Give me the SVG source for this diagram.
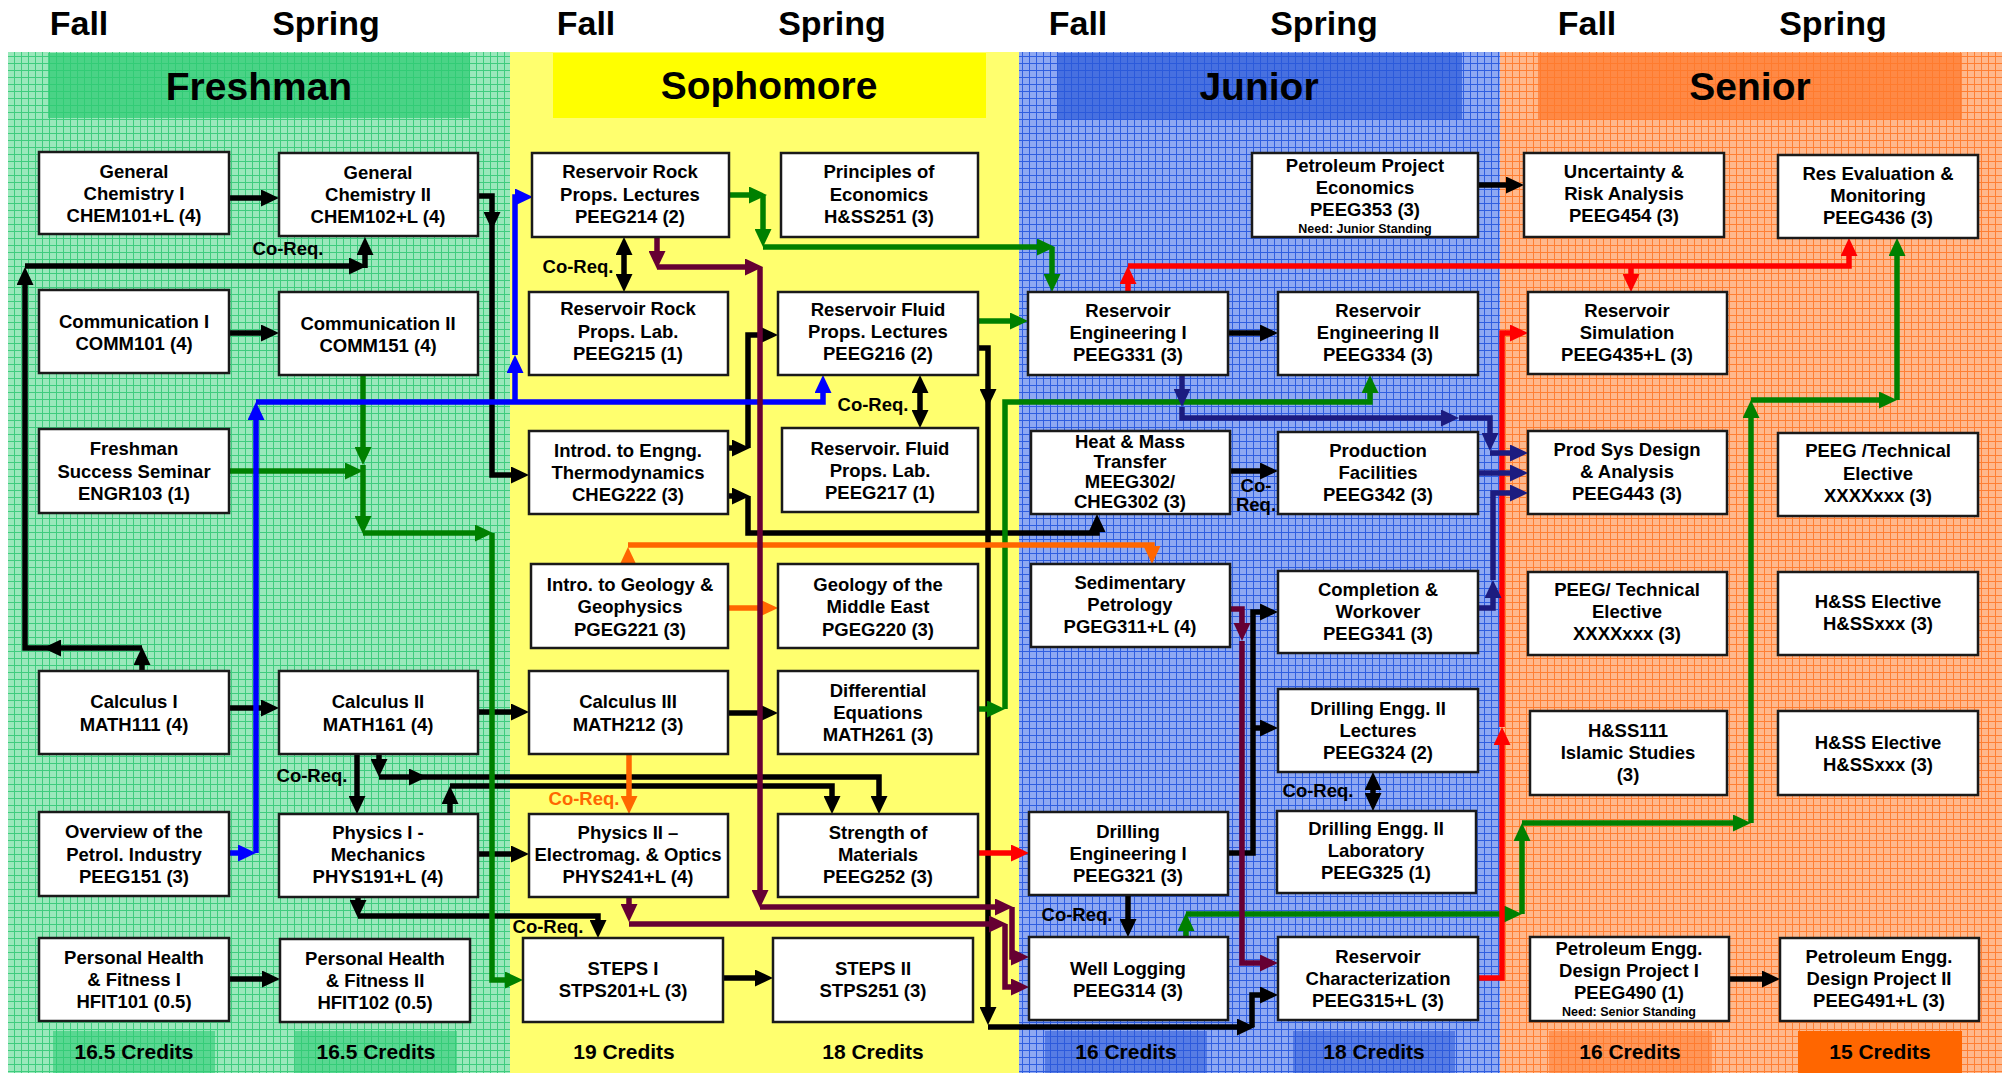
<svg xmlns="http://www.w3.org/2000/svg" width="2002" height="1073" viewBox="0 0 2002 1073">
<defs>
<pattern id="pg" width="7" height="7" patternUnits="userSpaceOnUse"><rect width="7" height="7" fill="#9ae8bb"/><path d="M0,0.5H7M0.5,0V7" stroke="#3fcc7e" stroke-width="1"/></pattern>
<pattern id="pb" width="7" height="7" patternUnits="userSpaceOnUse"><rect width="7" height="7" fill="#8ea8f2"/><path d="M0,0.5H7M0.5,0V7" stroke="#2f5ee0" stroke-width="1"/></pattern>
<pattern id="po" width="7" height="7" patternUnits="userSpaceOnUse"><rect width="7" height="7" fill="#ffb88c"/><path d="M0,0.5H7M0.5,0V7" stroke="#ff7f33" stroke-width="1"/></pattern>
<marker id="ak" viewBox="0 0 18 17" refX="5" refY="8.5" markerWidth="18" markerHeight="17" markerUnits="userSpaceOnUse" orient="auto"><path d="M0,0L18,8.5L0,17z" fill="#000"/></marker>
<marker id="ag" viewBox="0 0 18 17" refX="5" refY="8.5" markerWidth="18" markerHeight="17" markerUnits="userSpaceOnUse" orient="auto"><path d="M0,0L18,8.5L0,17z" fill="#008000"/></marker>
<marker id="ab" viewBox="0 0 18 17" refX="5" refY="8.5" markerWidth="18" markerHeight="17" markerUnits="userSpaceOnUse" orient="auto"><path d="M0,0L18,8.5L0,17z" fill="#0000ff"/></marker>
<marker id="ar" viewBox="0 0 18 17" refX="5" refY="8.5" markerWidth="18" markerHeight="17" markerUnits="userSpaceOnUse" orient="auto"><path d="M0,0L18,8.5L0,17z" fill="#ff0000"/></marker>
<marker id="ao" viewBox="0 0 18 17" refX="5" refY="8.5" markerWidth="18" markerHeight="17" markerUnits="userSpaceOnUse" orient="auto"><path d="M0,0L18,8.5L0,17z" fill="#ff6600"/></marker>
<marker id="am" viewBox="0 0 18 17" refX="5" refY="8.5" markerWidth="18" markerHeight="17" markerUnits="userSpaceOnUse" orient="auto"><path d="M0,0L18,8.5L0,17z" fill="#660033"/></marker>
<marker id="an" viewBox="0 0 18 17" refX="5" refY="8.5" markerWidth="18" markerHeight="17" markerUnits="userSpaceOnUse" orient="auto"><path d="M0,0L18,8.5L0,17z" fill="#1c1c80"/></marker>
<style>
.bx{fill:#fff;stroke:#1a1a1a;stroke-width:2.5}
.t{font-family:"Liberation Sans",Arial,sans-serif;font-weight:bold;font-size:18.5px;text-anchor:middle;fill:#000}
.s{font-size:12.5px}
.h{font-size:39px}
.sem{font-size:34px}
.cr{font-size:21px}
.c{fill:none;stroke-width:5.5;stroke-linejoin:miter}
.k{stroke:#000;marker-end:url(#ak)}
.g{stroke:#008000;marker-end:url(#ag)}
.b{stroke:#0000ff;marker-end:url(#ab)}
.r{stroke:#ff0000;marker-end:url(#ar)}
.o{stroke:#ff6600;marker-end:url(#ao)}
.m{stroke:#660033;marker-end:url(#am)}
.n{stroke:#1c1c80;marker-end:url(#an)}
</style>
</defs>
<rect width="2002" height="1073" fill="#fff"/>
<g id="panels">
<rect x="8" y="52" width="502" height="1021" fill="url(#pg)"/>
<rect x="510" y="52" width="509" height="1021" fill="#ffff6e"/>
<rect x="1019" y="52" width="481" height="1021" fill="url(#pb)"/>
<rect x="1500" y="52" width="502" height="1021" fill="url(#po)"/>
<rect x="48" y="53" width="422" height="65" fill="#2fcc74" opacity="0.75"/>
<rect x="553" y="53" width="433" height="65" fill="#ffff00"/>
<rect x="1057" y="53" width="405" height="67" fill="#2a58d8" opacity="0.7"/>
<rect x="1538" y="53" width="424" height="67" fill="#ff7a2e" opacity="0.75"/>
<rect x="53" y="1031" width="162" height="42" fill="#2fcc74" opacity="0.6"/>
<rect x="295" y="1031" width="162" height="42" fill="#2fcc74" opacity="0.6"/>
<rect x="1045" y="1031" width="162" height="42" fill="#2a58d8" opacity="0.55"/>
<rect x="1293" y="1031" width="162" height="42" fill="#2a58d8" opacity="0.55"/>
<rect x="1549" y="1031" width="163" height="42" fill="#ff7a2e" opacity="0.55"/>
<rect x="1798" y="1031" width="164" height="42" fill="#ff6600"/>
</g>
<g id="labels">
<text class="t sem" x="79" y="35">Fall</text>
<text class="t sem" x="326" y="35">Spring</text>
<text class="t sem" x="586" y="35">Fall</text>
<text class="t sem" x="832" y="35">Spring</text>
<text class="t sem" x="1078" y="35">Fall</text>
<text class="t sem" x="1324" y="35">Spring</text>
<text class="t sem" x="1587" y="35">Fall</text>
<text class="t sem" x="1833" y="35">Spring</text>
<text class="t h" x="259" y="100">Freshman</text>
<text class="t h" x="769" y="99">Sophomore</text>
<text class="t h" x="1259" y="100">Junior</text>
<text class="t h" x="1750" y="100">Senior</text>
<text class="t cr" x="134" y="1059">16.5 Credits</text>
<text class="t cr" x="376" y="1059">16.5 Credits</text>
<text class="t cr" x="624" y="1059">19 Credits</text>
<text class="t cr" x="873" y="1059">18 Credits</text>
<text class="t cr" x="1126" y="1059">16 Credits</text>
<text class="t cr" x="1374" y="1059">18 Credits</text>
<text class="t cr" x="1630" y="1059">16 Credits</text>
<text class="t cr" x="1880" y="1059">15 Credits</text>
</g>
<g id="connectors">
<path class="c k" d="M229,198H266"/>
<path class="c k" d="M229,333H266"/>
<path class="c k" d="M229,708H266"/>
<path class="c k" d="M229,979H267"/>
<path class="c k" d="M723,978H760"/>
<path class="c k" d="M478,712H516"/>
<path class="c k" d="M478,854H516"/>
<path class="c k" d="M728,713H765"/>
<path class="c k" d="M1228,333H1265"/>
<path class="c k" d="M1230,471H1265"/>
<path class="c k" d="M1478,185H1511"/>
<path class="c k" d="M1729,979H1767"/>
<path class="c k" d="M478,196H492V217"/>
<path class="c k" d="M492,217V475H516"/>
<path class="c k" d="M142,671V660"/>
<path class="c k" d="M142,648H56"/>
<path class="c k" d="M56,648H25V280"/>
<path class="c k" d="M25,266H354"/>
<path class="c k" d="M365,268V250"/>
<path class="c k" d="M357,754V801"/>
<path class="c k" d="M379,754V764"/>
<path class="c k" d="M379,777H414"/>
<path class="c k" d="M414,777H879V801"/>
<path class="c k" d="M450,814V799"/>
<path class="c k" d="M450,786H832V801"/>
<path class="c k" d="M358,897V905"/>
<path class="c k" d="M358,916H598V925"/>
<path class="c k" d="M728,448H737"/>
<path class="c k" d="M748,448V335H765"/>
<path class="c k" d="M728,496H737"/>
<path class="c k" d="M748,496V533H1097V527"/>
<path class="c k" d="M978,348H988V394"/>
<path class="c k" d="M988,394V1012"/>
<path class="c k" d="M988,1027H1242"/>
<path class="c k" d="M1252,1027V995H1265"/>
<path class="c k" d="M1228,853H1253V612H1265"/>
<path class="c k" d="M1253,728H1265"/>
<path class="c k" d="M1128,895V924"/>
<path class="c k" d="M624,265V250"/>
<path class="c k" d="M624,265V279"/>
<path class="c k" d="M920,401V388"/>
<path class="c k" d="M920,401V415"/>
<path class="c k" d="M1373,791V785"/>
<path class="c k" d="M1373,791V798"/>
<path class="c g" d="M729,195H754"/>
<path class="c g" d="M763,195V234"/>
<path class="c g" d="M763,247H1042"/>
<path class="c g" d="M1052,247V279"/>
<path class="c g" d="M978,321H1015"/>
<path class="c g" d="M978,709H992"/>
<path class="c g" d="M1005,709V402H1370V388"/>
<path class="c g" d="M363,375V452"/>
<path class="c g" d="M363,465V521"/>
<path class="c g" d="M363,533H480"/>
<path class="c g" d="M492,533V980H510"/>
<path class="c g" d="M229,471H350"/>
<path class="c g" d="M1186,937V926"/>
<path class="c g" d="M1186,914H1509"/>
<path class="c g" d="M1522,914V836"/>
<path class="c g" d="M1522,823H1738"/>
<path class="c g" d="M1751,823V413"/>
<path class="c g" d="M1751,400H1884"/>
<path class="c g" d="M1897,400V251"/>
<path class="c b" d="M229,853H243"/>
<path class="c b" d="M256,853V415"/>
<path class="c b" d="M256,402H823V388"/>
<path class="c b" d="M515,402V368"/>
<path class="c b" d="M515,355V197H520"/>
<path class="c r" d="M978,853H1016"/>
<path class="c r" d="M1128,292V279"/>
<path class="c r" d="M1128,266H1849V251"/>
<path class="c r" d="M1631,266V279"/>
<path class="c r" d="M1478,978H1502V740"/>
<path class="c r" d="M1502,727V333H1515"/>
<path class="c o" d="M628,564V560"/>
<path class="c o" d="M628,545H1152V551"/>
<path class="c o" d="M728,608H765"/>
<path class="c o" d="M629,754V801"/>
<path class="c m" d="M657,237V256"/>
<path class="c m" d="M657,267H750"/>
<path class="c m" d="M760,267V895"/>
<path class="c m" d="M760,907H1000"/>
<path class="c m" d="M1012,907V957H1016"/>
<path class="c m" d="M629,897V909"/>
<path class="c m" d="M629,924H994"/>
<path class="c m" d="M1005,924V987H1016"/>
<path class="c m" d="M1230,609H1242V628"/>
<path class="c m" d="M1242,641V963H1265"/>
<path class="c n" d="M1182,375V394"/>
<path class="c n" d="M1182,407V418H1446"/>
<path class="c n" d="M1459,418H1490V438"/>
<path class="c n" d="M1490,453H1515"/>
<path class="c n" d="M1478,473H1515"/>
<path class="c n" d="M1478,608H1493V593"/>
<path class="c n" d="M1493,580V493H1515"/>
<text class="t" x="288" y="255">Co-Req.</text>
<text class="t" x="312" y="782">Co-Req.</text>
<text class="t" x="548" y="933">Co-Req.</text>
<text class="t" x="578" y="273">Co-Req.</text>
<text class="t" x="584" y="805" fill="#ff6600" style="fill:#ff6600">Co-Req.</text>
<text class="t" x="873" y="411">Co-Req.</text>
<text class="t" x="1256" y="492">Co-</text>
<text class="t" x="1256" y="511">Req.</text>
<text class="t" x="1318" y="797">Co-Req.</text>
<text class="t" x="1077" y="921">Co-Req.</text>
</g>
<g id="CHEM101"><rect class="bx" x="39" y="152" width="190" height="82"/><text class="t"><tspan x="134" y="178">General</tspan><tspan x="134" y="200">Chemistry I</tspan><tspan x="134" y="222">CHEM101+L (4)</tspan></text></g>
<g id="CHEM102"><rect class="bx" x="279" y="153" width="199" height="83"/><text class="t"><tspan x="378" y="179">General</tspan><tspan x="378" y="201">Chemistry II</tspan><tspan x="378" y="223">CHEM102+L (4)</tspan></text></g>
<g id="COMM101"><rect class="bx" x="39" y="290" width="190" height="83"/><text class="t"><tspan x="134" y="328">Communication I</tspan><tspan x="134" y="350">COMM101 (4)</tspan></text></g>
<g id="COMM151"><rect class="bx" x="279" y="292" width="199" height="83"/><text class="t"><tspan x="378" y="330">Communication II</tspan><tspan x="378" y="352">COMM151 (4)</tspan></text></g>
<g id="ENGR103"><rect class="bx" x="39" y="429" width="190" height="84"/><text class="t"><tspan x="134" y="455">Freshman</tspan><tspan x="134" y="478">Success Seminar</tspan><tspan x="134" y="500">ENGR103 (1)</tspan></text></g>
<g id="MATH111"><rect class="bx" x="39" y="671" width="190" height="83"/><text class="t"><tspan x="134" y="708">Calculus I</tspan><tspan x="134" y="731">MATH111 (4)</tspan></text></g>
<g id="MATH161"><rect class="bx" x="279" y="671" width="199" height="83"/><text class="t"><tspan x="378" y="708">Calculus II</tspan><tspan x="378" y="731">MATH161 (4)</tspan></text></g>
<g id="PEEG151"><rect class="bx" x="39" y="812" width="190" height="84"/><text class="t"><tspan x="134" y="838">Overview of the</tspan><tspan x="134" y="861">Petrol.  Industry</tspan><tspan x="134" y="883">PEEG151 (3)</tspan></text></g>
<g id="PHYS191"><rect class="bx" x="279" y="814" width="199" height="83"/><text class="t"><tspan x="378" y="839">Physics I -</tspan><tspan x="378" y="861">Mechanics</tspan><tspan x="378" y="883">PHYS191+L (4)</tspan></text></g>
<g id="HFIT101"><rect class="bx" x="39" y="938" width="190" height="83"/><text class="t"><tspan x="134" y="964">Personal Health</tspan><tspan x="134" y="986">&amp; Fitness I</tspan><tspan x="134" y="1008">HFIT101 (0.5)</tspan></text></g>
<g id="HFIT102"><rect class="bx" x="280" y="939" width="190" height="83"/><text class="t"><tspan x="375" y="965">Personal Health</tspan><tspan x="375" y="987">&amp; Fitness  II</tspan><tspan x="375" y="1009">HFIT102 (0.5)</tspan></text></g>
<g id="PEEG214"><rect class="bx" x="532" y="153" width="197" height="84"/><text class="t"><tspan x="630" y="178">Reservoir Rock</tspan><tspan x="630" y="201">Props. Lectures</tspan><tspan x="630" y="223">PEEG214 (2)</tspan></text></g>
<g id="HSS251"><rect class="bx" x="781" y="153" width="197" height="84"/><text class="t"><tspan x="879" y="178">Principles of</tspan><tspan x="879" y="201">Economics</tspan><tspan x="879" y="223">H&amp;SS251 (3)</tspan></text></g>
<g id="PEEG215"><rect class="bx" x="529" y="292" width="199" height="83"/><text class="t"><tspan x="628" y="315">Reservoir Rock</tspan><tspan x="628" y="338">Props. Lab.</tspan><tspan x="628" y="360">PEEG215 (1)</tspan></text></g>
<g id="PEEG216"><rect class="bx" x="778" y="292" width="200" height="83"/><text class="t"><tspan x="878" y="316">Reservoir Fluid</tspan><tspan x="878" y="338">Props. Lectures</tspan><tspan x="878" y="360">PEEG216 (2)</tspan></text></g>
<g id="CHEG222"><rect class="bx" x="529" y="431" width="199" height="83"/><text class="t"><tspan x="628" y="457">Introd. to Engng.</tspan><tspan x="628" y="479">Thermodynamics</tspan><tspan x="628" y="501">CHEG222 (3)</tspan></text></g>
<g id="PEEG217"><rect class="bx" x="782" y="428" width="196" height="84"/><text class="t"><tspan x="880" y="455">Reservoir. Fluid</tspan><tspan x="880" y="477">Props. Lab.</tspan><tspan x="880" y="499">PEEG217 (1)</tspan></text></g>
<g id="PGEG221"><rect class="bx" x="531" y="564" width="197" height="84"/><text class="t"><tspan x="630" y="591">Intro. to Geology &amp;</tspan><tspan x="630" y="613">Geophysics</tspan><tspan x="630" y="636">PGEG221 (3)</tspan></text></g>
<g id="PGEG220"><rect class="bx" x="778" y="564" width="200" height="84"/><text class="t"><tspan x="878" y="591">Geology of the</tspan><tspan x="878" y="613">Middle East</tspan><tspan x="878" y="636">PGEG220 (3)</tspan></text></g>
<g id="MATH212"><rect class="bx" x="529" y="671" width="199" height="83"/><text class="t"><tspan x="628" y="708">Calculus III</tspan><tspan x="628" y="731">MATH212 (3)</tspan></text></g>
<g id="MATH261"><rect class="bx" x="778" y="671" width="200" height="83"/><text class="t"><tspan x="878" y="697">Differential</tspan><tspan x="878" y="719">Equations</tspan><tspan x="878" y="741">MATH261 (3)</tspan></text></g>
<g id="PHYS241"><rect class="bx" x="529" y="814" width="199" height="83"/><text class="t"><tspan x="628" y="839">Physics II –</tspan><tspan x="628" y="861">Electromag. &amp; Optics</tspan><tspan x="628" y="883">PHYS241+L (4)</tspan></text></g>
<g id="PEEG252"><rect class="bx" x="778" y="814" width="200" height="83"/><text class="t"><tspan x="878" y="839">Strength of</tspan><tspan x="878" y="861">Materials</tspan><tspan x="878" y="883">PEEG252 (3)</tspan></text></g>
<g id="STPS201"><rect class="bx" x="523" y="938" width="200" height="84"/><text class="t"><tspan x="623" y="975">STEPS I</tspan><tspan x="623" y="997">STPS201+L (3)</tspan></text></g>
<g id="STPS251"><rect class="bx" x="773" y="938" width="200" height="84"/><text class="t"><tspan x="873" y="975">STEPS II</tspan><tspan x="873" y="997">STPS251 (3)</tspan></text></g>
<g id="PEEG353"><rect class="bx" x="1252" y="153" width="226" height="84"/><text class="t"><tspan x="1365" y="172">Petroleum Project</tspan><tspan x="1365" y="194">Economics</tspan><tspan x="1365" y="216">PEEG353 (3)</tspan></text><text class="t s" x="1365" y="233">Need: Junior Standing</text></g>
<g id="PEEG331"><rect class="bx" x="1028" y="292" width="200" height="83"/><text class="t"><tspan x="1128" y="317">Reservoir</tspan><tspan x="1128" y="339">Engineering I</tspan><tspan x="1128" y="361">PEEG331 (3)</tspan></text></g>
<g id="PEEG334"><rect class="bx" x="1278" y="292" width="200" height="83"/><text class="t"><tspan x="1378" y="317">Reservoir</tspan><tspan x="1378" y="339">Engineering II</tspan><tspan x="1378" y="361">PEEG334 (3)</tspan></text></g>
<g id="MEEG302"><rect class="bx" x="1031" y="431" width="199" height="83"/><text class="t"><tspan x="1130" y="448">Heat &amp; Mass</tspan><tspan x="1130" y="468">Transfer</tspan><tspan x="1130" y="488">MEEG302/</tspan><tspan x="1130" y="508">CHEG302 (3)</tspan></text></g>
<g id="PEEG342"><rect class="bx" x="1278" y="432" width="200" height="82"/><text class="t"><tspan x="1378" y="457">Production</tspan><tspan x="1378" y="479">Facilities</tspan><tspan x="1378" y="501">PEEG342 (3)</tspan></text></g>
<g id="PGEG311"><rect class="bx" x="1031" y="564" width="199" height="83"/><text class="t"><tspan x="1130" y="589">Sedimentary</tspan><tspan x="1130" y="611">Petrology</tspan><tspan x="1130" y="633">PGEG311+L (4)</tspan></text></g>
<g id="PEEG341"><rect class="bx" x="1278" y="571" width="200" height="82"/><text class="t"><tspan x="1378" y="596">Completion &amp;</tspan><tspan x="1378" y="618">Workover</tspan><tspan x="1378" y="640">PEEG341 (3)</tspan></text></g>
<g id="PEEG324"><rect class="bx" x="1278" y="689" width="200" height="83"/><text class="t"><tspan x="1378" y="715">Drilling Engg. II</tspan><tspan x="1378" y="737">Lectures</tspan><tspan x="1378" y="759">PEEG324 (2)</tspan></text></g>
<g id="PEEG325"><rect class="bx" x="1277" y="811" width="199" height="82"/><text class="t"><tspan x="1376" y="835">Drilling Engg. II</tspan><tspan x="1376" y="857">Laboratory</tspan><tspan x="1376" y="879">PEEG325 (1)</tspan></text></g>
<g id="PEEG321"><rect class="bx" x="1029" y="812" width="199" height="83"/><text class="t"><tspan x="1128" y="838">Drilling</tspan><tspan x="1128" y="860">Engineering I</tspan><tspan x="1128" y="882">PEEG321 (3)</tspan></text></g>
<g id="PEEG314"><rect class="bx" x="1029" y="937" width="199" height="83"/><text class="t"><tspan x="1128" y="975">Well Logging</tspan><tspan x="1128" y="997">PEEG314 (3)</tspan></text></g>
<g id="PEEG315"><rect class="bx" x="1278" y="937" width="200" height="83"/><text class="t"><tspan x="1378" y="963">Reservoir</tspan><tspan x="1378" y="985">Characterization</tspan><tspan x="1378" y="1007">PEEG315+L (3)</tspan></text></g>
<g id="PEEG454"><rect class="bx" x="1524" y="153" width="200" height="84"/><text class="t"><tspan x="1624" y="178">Uncertainty &amp;</tspan><tspan x="1624" y="200">Risk Analysis</tspan><tspan x="1624" y="222">PEEG454 (3)</tspan></text></g>
<g id="PEEG436"><rect class="bx" x="1778" y="155" width="200" height="83"/><text class="t"><tspan x="1878" y="180">Res Evaluation &amp;</tspan><tspan x="1878" y="202">Monitoring</tspan><tspan x="1878" y="224">PEEG436 (3)</tspan></text></g>
<g id="PEEG435"><rect class="bx" x="1528" y="292" width="199" height="82"/><text class="t"><tspan x="1627" y="317">Reservoir</tspan><tspan x="1627" y="339">Simulation</tspan><tspan x="1627" y="361">PEEG435+L (3)</tspan></text></g>
<g id="PEEG443"><rect class="bx" x="1528" y="431" width="199" height="83"/><text class="t"><tspan x="1627" y="456">Prod Sys Design</tspan><tspan x="1627" y="478">&amp; Analysis</tspan><tspan x="1627" y="500">PEEG443 (3)</tspan></text></g>
<g id="TECH1"><rect class="bx" x="1778" y="433" width="200" height="83"/><text class="t"><tspan x="1878" y="457">PEEG /Technical</tspan><tspan x="1878" y="480">Elective</tspan><tspan x="1878" y="502">XXXXxxx (3)</tspan></text></g>
<g id="TECH2"><rect class="bx" x="1528" y="572" width="199" height="83"/><text class="t"><tspan x="1627" y="596">PEEG/ Technical</tspan><tspan x="1627" y="618">Elective</tspan><tspan x="1627" y="640">XXXXxxx (3)</tspan></text></g>
<g id="HSSE1"><rect class="bx" x="1778" y="572" width="200" height="83"/><text class="t"><tspan x="1878" y="608">H&amp;SS Elective</tspan><tspan x="1878" y="630">H&amp;SSxxx (3)</tspan></text></g>
<g id="HSS111"><rect class="bx" x="1530" y="711" width="197" height="84"/><text class="t"><tspan x="1628" y="737">H&amp;SS111</tspan><tspan x="1628" y="759">Islamic Studies</tspan><tspan x="1628" y="781">(3)</tspan></text></g>
<g id="HSSE2"><rect class="bx" x="1778" y="711" width="200" height="84"/><text class="t"><tspan x="1878" y="749">H&amp;SS Elective</tspan><tspan x="1878" y="771">H&amp;SSxxx (3)</tspan></text></g>
<g id="PEEG490"><rect class="bx" x="1530" y="937" width="199" height="84"/><text class="t"><tspan x="1629" y="955">Petroleum Engg.</tspan><tspan x="1629" y="977">Design Project  I</tspan><tspan x="1629" y="999">PEEG490 (1)</tspan></text><text class="t s" x="1629" y="1016">Need: Senior Standing</text></g>
<g id="PEEG491"><rect class="bx" x="1780" y="938" width="199" height="83"/><text class="t"><tspan x="1879" y="963">Petroleum Engg.</tspan><tspan x="1879" y="985">Design Project  II</tspan><tspan x="1879" y="1007">PEEG491+L (3)</tspan></text></g>
</svg>
